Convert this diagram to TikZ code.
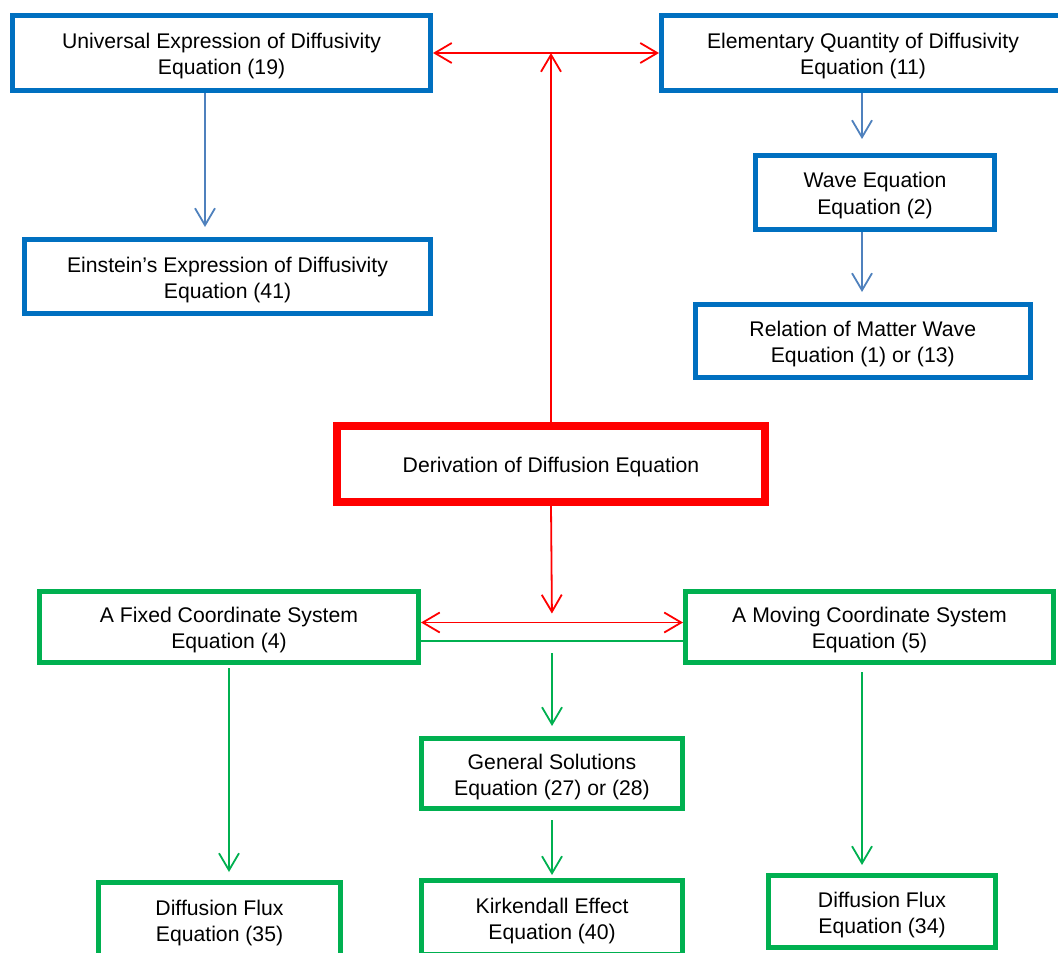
\documentclass[tikz,border=0pt]{standalone}
\usepackage{fontspec}
\setmainfont{Liberation Sans}
\usetikzlibrary{arrows.meta,calc}
\definecolor{bbox}{HTML}{0070C0}
\definecolor{barr}{HTML}{4F81BD}
\definecolor{rbox}{HTML}{FF0000}
\definecolor{gbox}{HTML}{00B050}
\newcommand{\boxtext}[1]{\begin{tabular}{@{}c@{}}\rule{0pt}{12.4pt}#1\end{tabular}}
\tikzset{
  box/.style={draw, rectangle, inner sep=0pt, font=\fontsize{10.6}{13}\selectfont, text=black},
  bluebox/.style={box, draw=bbox, line width=2.5pt},
  redbox/.style={box, draw=rbox, line width=4pt},
  greenbox/.style={box, draw=gbox, line width=2.5pt},
  tip/.style={-{Straight Barb[length=8.5pt,width=10pt]}},
  dtip/.style={{Straight Barb[length=8.5pt,width=10pt]}-{Straight Barb[length=8.5pt,width=10pt]}},
  barrow/.style={tip, draw=barr, line width=0.9pt},
  rarrow/.style={tip, draw=rbox, line width=0.9pt},
  rdarrow/.style={dtip, draw=rbox, line width=0.9pt},
  garrow/.style={tip, draw=gbox, line width=0.9pt},
  gline/.style={draw=gbox, line width=0.9pt},
}
\begin{document}
\begin{tikzpicture}[x=0.5pt,y=-0.5pt]
\useasboundingbox (0,0) rectangle (1058,952);
% nodes
\node[bluebox, minimum width=209pt, minimum height=37.5pt] (uni) at (221.5,53) {\boxtext{Universal Expression of Diffusivity\\Equation (19)}};
\node[bluebox, minimum width=201.5pt, minimum height=37.5pt] (elem) at (863,53) {\boxtext{Elementary Quantity of Diffusivity\\Equation (11)}};
\node[bluebox, minimum width=203pt, minimum height=37pt] (ein) at (227.5,276.5) {\boxtext{Einstein’s Expression of Diffusivity\\Equation (41)}};
\node[bluebox, minimum width=119.5pt, minimum height=37pt] (wave) at (875,192.5) {\boxtext{Wave Equation\\Equation (2)}};
\node[bluebox, minimum width=167.25pt, minimum height=36.5pt] (rel) at (862.75,341) {\boxtext{Relation of Matter Wave\\Equation (1) or (13)}};
\node[redbox, minimum width=214pt, minimum height=38pt] (der) at (551,464) {\boxtext{Derivation of Diffusion Equation}};
\node[greenbox, minimum width=189.5pt, minimum height=35.5pt] (fixed) at (229,627) {\boxtext{A Fixed Coordinate System\\Equation (4)}};
\node[greenbox, minimum width=184pt, minimum height=35.5pt] (moving) at (869.5,627) {\boxtext{A Moving Coordinate System\\Equation (5)}};
\node[greenbox, minimum width=130.5pt, minimum height=35pt] (gen) at (552,773.5) {\boxtext{General Solutions\\Equation (27) or (28)}};
\node[greenbox, minimum width=121pt, minimum height=37.5pt] (df35) at (219.5,920) {\boxtext{Diffusion Flux\\Equation (35)}};
\node[greenbox, minimum width=130.5pt, minimum height=37pt] (kirk) at (552,917.5) {\boxtext{Kirkendall Effect\\Equation (40)}};
\node[greenbox, minimum width=113.5pt, minimum height=36pt] (df34) at (882,911.5) {\boxtext{Diffusion Flux\\Equation (34)}};
% helper coordinates
\coordinate (topj) at (der.north |- uni.east);
\coordinate (midr) at (552,622.5);
\coordinate (midg) at (552,641);
\coordinate (ux) at (205,0);
\coordinate (mvx) at (862,0);
% red connectors
\draw[rarrow] (der.north) -- (topj);
\draw[rdarrow] (uni.east) -- (elem.west);
\draw[rarrow, shorten >=4.5pt] (der.south) -- (midr);
\draw[rdarrow] (fixed.east |- midr) -- (moving.west |- midr);
% green connectors
\draw[gline] (fixed.east |- midg) -- (moving.west |- midg);
\draw[garrow, shorten <=6pt, shorten >=5pt] (midg) -- (gen.north);
\draw[garrow, shorten <=4.5pt, shorten >=1.5pt] (gen.south) -- (kirk.north);
\draw[garrow, shorten <=1.5pt, shorten >=4pt] (fixed.south) -- (fixed.south |- df35.north);
\draw[garrow, shorten <=3.5pt, shorten >=4pt] (moving.south -| mvx) -- (df34.north -| mvx);
% blue connectors
\draw[barrow, shorten >=5pt] (uni.south -| ux) -- (ein.north -| ux);
\draw[barrow, shorten >=7pt] (elem.south -| mvx) -- (wave.north -| mvx);
\draw[barrow, shorten >=5pt] (wave.south -| mvx) -- (rel.north -| mvx);
\end{tikzpicture}
\end{document}
